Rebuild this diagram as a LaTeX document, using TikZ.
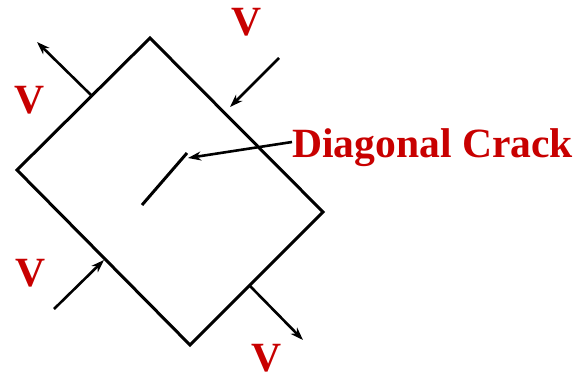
\documentclass[tikz,border=0pt]{standalone}
\usepackage{fontspec}
\setmainfont{Liberation Serif}
\usetikzlibrary{arrows.meta, positioning}
\definecolor{crackred}{RGB}{200,0,0}
\tikzset{
    vtext/.style={text=crackred, font=\bfseries\fontsize{41.6}{48}\selectfont, inner sep=0pt},
    plate/.style={line width=3pt, line join=miter},
    arrow/.style={-{Stealth[length=13pt, width=9pt, inset=4pt]}, line width=2.6pt}
}
\begin{document}
\begin{tikzpicture}[x=1pt, y=-1pt]
        \useasboundingbox (0,0) rectangle (583,378);
        % corners of the element
        \coordinate (top) at (150,38);
        \coordinate (right) at (323,212);
        \coordinate (bottom) at (190,345);
        \coordinate (left) at (17,170);
        \draw [plate] (top) -- (right) -- (bottom) -- (left) -- cycle;
        % shear forces
        \coordinate (tlfoot) at (91,95);
        \coordinate (tlhead) at (37,42);
        \coordinate (trfoot) at (279,58);
        \coordinate (trhead) at (230,107);
        \coordinate (blfoot) at (54,309);
        \coordinate (blhead) at (104,260);
        \coordinate (brfoot) at (250,286);
        \coordinate (brhead) at (303,340);
        \draw [arrow] (tlfoot) -- (tlhead);
        \draw [arrow] (trfoot) -- (trhead);
        \draw [arrow] (blfoot) -- (blhead);
        \draw [arrow] (brfoot) -- (brhead);
        \node [vtext] (vtl) at (30,100) {V};
        \node [vtext] (vtr) at (247,22) {V};
        \node [vtext] (vbl) at (31,273) {V};
        \node [vtext] (vbr) at (267,358) {V};
        % crack
        \coordinate (crackA) at (142,205);
        \coordinate (crackB) at (187,153);
        \draw [line width=3pt] (crackA) -- (crackB);
        \node [vtext, anchor=base west] (crack) at (292,157) {Diagonal Crack};
        \coordinate (crackhead) at (188,158);
        \draw [arrow] (crack.west |- 0,142) -- (crackhead);
    \end{tikzpicture}
\end{document}
